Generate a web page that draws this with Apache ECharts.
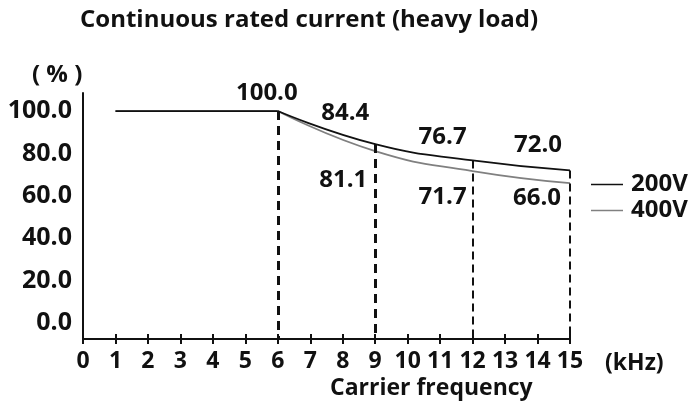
<!DOCTYPE html>
<html>
<head>
<meta charset="utf-8">
<script src="https://cdn.jsdelivr.net/npm/echarts@6/dist/echarts.min.js"></script>
<style>
  html, body { margin: 0; padding: 0; background: #fff; }
  #chart { width: 693px; height: 407px; }
</style>
</head>
<body>
<div id="chart"></div>
<script>
// Carrier frequency (kHz) sample points
const freqKHz = [1, 6, 9, 12, 15];
// Continuous rated current (%), heavy load
const current200V = [100.0, 100.0, 84.4, 76.7, 72.0];
const current400V = [100.0, 100.0, 81.1, 71.7, 66.0];
// Frequencies that get a dashed drop line
const dropFreq = [6, 9, 12, 15];
// Y tick labels
const yTicks = [0, 20, 40, 60, 80, 100];

const FONT = '"Open Sans", "Noto Sans", sans-serif';
const WEIGHT = 'bold';
const INK = '#111';
const GREY = '#808080';
const Y_MIN = -7.5, Y_MAX = 108.5;

// value-label placement per series: index -> [dx, dy] from the point
const labelOffsets200 = { 1: [-11, -18], 2: [-30, -31], 3: [-30, -23], 4: [-32, -25] };
const labelOffsets400 = { 2: [-32, 29], 3: [-30, 26], 4: [-33, 15] };

function points(xs, ys, from, to, offsets) {
  const out = [];
  for (let i = from; i <= to; i++) {
    const item = { value: [xs[i], ys[i]] };
    if (offsets && offsets[i]) {
      item.label = { show: true, position: 'inside', offset: offsets[i] };
    }
    out.push(item);
  }
  return out;
}

const valueLabel = {
  show: false,
  color: INK,
  fontFamily: FONT,
  fontWeight: WEIGHT,
  fontSize: 24,
  formatter: p => p.value[1].toFixed(1)
};

// dashed drop lines from the 200V curve down to the axis
const dropLines = dropFreq.map(f => {
  const v = current200V[freqKHz.indexOf(f)];
  const heavy = f <= 9;
  return [
    { coord: [f, v], lineStyle: { width: heavy ? 3 : 2, type: heavy ? [9, 6] : [8, 5], color: INK } },
    { coord: [f, Y_MIN] }
  ];
});

const chart = echarts.init(document.getElementById('chart'), null, { renderer: 'canvas' });

chart.setOption({
  animation: false,
  backgroundColor: '#fff',
  grid: { left: 83, right: 123, top: 93, bottom: 68, containLabel: false },
  xAxis: [
    {
      type: 'value', min: 0, max: 15, interval: 1, position: 'bottom',
      axisLine: { show: true, onZero: false, lineStyle: { color: INK, width: 2 } },
      axisTick: { show: true, length: 5, lineStyle: { color: INK, width: 2 } },
      axisLabel: { color: INK, fontFamily: FONT, fontWeight: WEIGHT, fontSize: 23, margin: 11 },
      splitLine: { show: false }
    },
    {
      type: 'value', min: 0, max: 15, interval: 1, position: 'bottom',
      axisLine: { show: false, onZero: false },
      axisTick: { show: true, inside: true, length: 5, lineStyle: { color: INK, width: 2 } },
      axisLabel: { show: false },
      splitLine: { show: false }
    }
  ],
  yAxis: {
    type: 'value', min: Y_MIN, max: Y_MAX,
    axisLine: { show: true, onZero: false, lineStyle: { color: INK, width: 2 } },
    axisTick: { show: false },
    splitLine: { show: false },
    axisLabel: {
      customValues: yTicks,
      formatter: v => Number(v).toFixed(1),
      color: INK, fontFamily: FONT, fontWeight: WEIGHT, fontSize: 25, margin: 11
    }
  },
  legend: {
    orient: 'vertical', left: 586, top: 167,
    icon: 'rect', itemWidth: 32, itemHeight: 1.5, itemGap: 1,
    data: ['200V', '400V'],
    textStyle: { color: INK, fontFamily: FONT, fontWeight: WEIGHT, fontSize: 24, lineHeight: 25, padding: [0, 0, 0, 3] }
  },
  graphic: [
    { type: 'text', x: 80, y: 20, style: { text: 'Continuous rated current (heavy load)', font: `${WEIGHT} 24px ${FONT}`, fill: INK, textVerticalAlign: 'middle' } },
    { type: 'text', x: 32, y: 75, style: { text: '( % )', font: `${WEIGHT} 24px ${FONT}`, fill: INK, textVerticalAlign: 'middle' } },
    { type: 'text', x: 605, y: 363, style: { text: '(kHz)', font: `${WEIGHT} 23px ${FONT}`, fill: INK, textVerticalAlign: 'middle' } },
    { type: 'text', x: 330, y: 388, style: { text: 'Carrier frequency', font: `${WEIGHT} 23px ${FONT}`, fill: INK, textVerticalAlign: 'middle' } }
  ],
  series: [
    {
      name: '400V', type: 'line', showSymbol: false, symbol: 'none',
      lineStyle: { color: GREY, width: 1.8 }, itemStyle: { color: GREY },
      data: points(freqKHz, current400V, 0, 1)
    },
    {
      name: '400V', type: 'line', smooth: 0.5, symbol: 'circle', symbolSize: 0,
      lineStyle: { color: GREY, width: 1.8 }, itemStyle: { color: GREY },
      label: valueLabel,
      data: points(freqKHz, current400V, 1, 4, labelOffsets400)
    },
    {
      name: '200V', type: 'line', showSymbol: false, symbol: 'none',
      lineStyle: { color: INK, width: 1.8 }, itemStyle: { color: INK },
      data: points(freqKHz, current200V, 0, 1)
    },
    {
      name: '200V', type: 'line', smooth: 0.5, symbol: 'circle', symbolSize: 0,
      lineStyle: { color: INK, width: 1.8 }, itemStyle: { color: INK },
      label: valueLabel,
      data: points(freqKHz, current200V, 1, 4, labelOffsets200),
      markLine: { silent: true, symbol: 'none', label: { show: false }, data: dropLines }
    }
  ]
});
</script>
</body>
</html>
